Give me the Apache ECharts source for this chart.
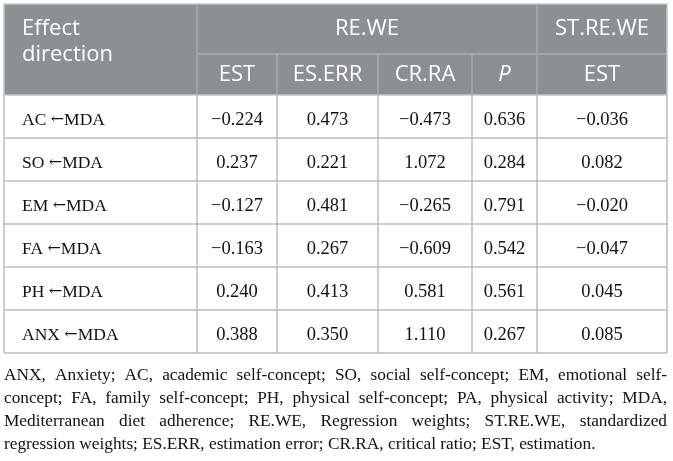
<!DOCTYPE html>
<html><head><meta charset="utf-8">
<script src="https://cdn.jsdelivr.net/npm/echarts@6/dist/echarts.min.js"></script>
<style>html,body{margin:0;padding:0;background:#fff}#c{width:673px;height:461px}</style>
</head><body><div id="c"></div>
<script>
// ---- data ----
const rowOutcomes = ['AC','SO','EM','FA','PH','ANX'];
const rowPredictor = 'MDA';
const est    = [-0.224, 0.237, -0.127, -0.163, 0.240, 0.388];
const esErr  = [0.473, 0.221, 0.481, 0.267, 0.413, 0.350];
const crRa   = [-0.473, 1.072, -0.265, -0.609, 0.581, 1.110];
const pVal   = [0.636, 0.284, 0.791, 0.542, 0.561, 0.267];
const stdEst = [-0.036, 0.082, -0.020, -0.047, 0.045, 0.085];
const firstHeader = ['Effect', 'direction'];
const groupHeaders = ['RE.WE', 'ST.RE.WE'];
const colHeaders = ['EST', 'ES.ERR', 'CR.RA', 'P', 'EST'];
const footnoteLines = [
  'ANX, Anxiety; AC, academic self-concept; SO, social self-concept; EM, emotional self-',
  'concept; FA, family self-concept; PH, physical self-concept; PA, physical activity; MDA,',
  'Mediterranean diet adherence; RE.WE, Regression weights; ST.RE.WE, standardized',
  'regression weights; ES.ERR, estimation error; CR.RA, critical ratio; EST, estimation.'
];
const rowLabels = rowOutcomes.map(o => o + ' \u2190' + rowPredictor);

// ---- layout ----
const L = 4, R = 667, T = 4, HMID = 54, HB = 95, B = 353;
const edges = [4, 197, 277, 378, 472, 537, 667];
const HEAD_BG = '#8b9093', HEAD_LINE = '#a9adaf', GRID_LINE = '#bdbdbd', OUTER = '#c4c7c8';
const headFont = '"Open Sans", sans-serif';
const serif = '"Liberation Serif", "Times New Roman", serif';

const fmt = v => (v < 0 ? '\u2212' : '') + Math.abs(v).toFixed(3);
const cols = [est, esErr, crRa, pVal, stdEst];
const data = rowLabels.map((r, i) => [i, 0].concat(cols.map(c => c[i])));

const graphics = [];
graphics.push({type:'rect', shape:{x:L, y:T, width:R-L, height:HB-T}, style:{fill:HEAD_BG, stroke:OUTER, lineWidth:1.5}, z:1});
const hl = (x1,y1,x2,y2,c,w) => graphics.push({type:'line', shape:{x1,y1,x2,y2}, style:{stroke:c, lineWidth:w||1.5}, z:2});
hl(edges[1], T, edges[1], HB, HEAD_LINE);
hl(edges[5], T, edges[5], HB, HEAD_LINE);
hl(edges[1], HMID, R, HMID, HEAD_LINE);
for (let k = 2; k <= 4; k++) hl(edges[k], HMID, edges[k], HB, HEAD_LINE);
graphics.push({type:'text', z:3, style:{text:firstHeader[0], x:22, y:28.5, fill:'#fff', font:'22px '+headFont, textAlign:'left', textVerticalAlign:'middle'}});
graphics.push({type:'text', z:3, style:{text:firstHeader[1], x:22, y:54.5, fill:'#fff', font:'22px '+headFont, textAlign:'left', textVerticalAlign:'middle'}});
graphics.push({type:'text', z:3, style:{text:groupHeaders[0], x:(edges[1]+edges[5])/2, y:29, fill:'#fff', font:'22px '+headFont, textAlign:'center', textVerticalAlign:'middle'}});
graphics.push({type:'text', z:3, style:{text:groupHeaders[1], x:(edges[5]+edges[6])/2, y:29, fill:'#fff', font:'22px '+headFont, textAlign:'center', textVerticalAlign:'middle'}});
colHeaders.forEach((h, k) => {
  graphics.push({type:'text', z:3, style:{text:h, x:(edges[k+1]+edges[k+2])/2, y:75, fill:'#fff',
    font:(h === 'P' ? 'italic ' : '') + '22px ' + headFont, textAlign:'center', textVerticalAlign:'middle'}});
});

// footnote, justified
const cv = document.createElement('canvas').getContext('2d');
const fnFont = '17.3px ' + serif;
cv.font = fnFont;
const fnY = [375.5, 398.5, 421.5, 444.5];
footnoteLines.forEach((line, li) => {
  const words = line.split(' ');
  const widths = words.map(w => cv.measureText(w).width);
  const sum = widths.reduce((a, b) => a + b, 0);
  const last = li === footnoteLines.length - 1;
  const gap = last ? cv.measureText(' ').width : (R - L - sum) / (words.length - 1);
  let x = L;
  words.forEach((w, wi) => {
    graphics.push({type:'text', z:3, style:{text:w, x:x, y:fnY[li], fill:'#111', font:fnFont, textAlign:'left', textVerticalAlign:'middle'}});
    x += widths[wi] + gap;
  });
});

const chart = echarts.init(document.getElementById('c'), null, {renderer:'canvas'});
chart.setOption({
  animation: false,
  grid: {left: L, right: 673 - R, top: HB, bottom: 461 - B},
  xAxis: {type:'value', min: 0, max: R - L, show: false},
  yAxis: {type:'category', data: rowLabels, inverse: true, show: false},
  graphic: graphics,
  series: [{
    type: 'custom',
    encode: {x: 1, y: 0},
    data: data,
    renderItem: function (params, api) {
      const i = api.value(0);
      const c = api.coord([0, i]);
      const h = api.size([0, 1])[1];
      const yc = c[1];
      const top = yc - h / 2, bot = yc + h / 2;
      const ty = yc + 3.5;
      const ch = [];
      ch.push({type:'text', style:{
        text: '{a|' + rowOutcomes[i] + ' }{b|\u2190}{a|' + rowPredictor + '}',
        x: 22, y: ty, textAlign:'left', textVerticalAlign:'middle',
        rich: {
          a: {fontFamily: serif, fontSize: 17.5, fill: '#111', color: '#111'},
          b: {fontFamily: '"DejaVu Serif", serif', fontSize: 16, fill: '#111', color: '#111', padding: [0, 0, 1, 0]}
        }
      }});
      for (let k = 0; k < 5; k++) {
        const xm = (edges[k+1] + edges[k+2]) / 2;
        ch.push({type:'text', style:{text: fmt(api.value(2 + k)), x: xm, y: ty, fill:'#111', font:'18.5px '+serif, textAlign:'center', textVerticalAlign:'middle'}});
      }
      edges.forEach(ex => ch.push({type:'line', shape:{x1:ex, y1:top, x2:ex, y2:bot}, style:{stroke:GRID_LINE, lineWidth:1.5}}));
      ch.push({type:'line', shape:{x1:L, y1:bot, x2:R, y2:bot}, style:{stroke:GRID_LINE, lineWidth:1.5}});
      return {type:'group', children: ch};
    }
  }]
});
</script></body></html>
